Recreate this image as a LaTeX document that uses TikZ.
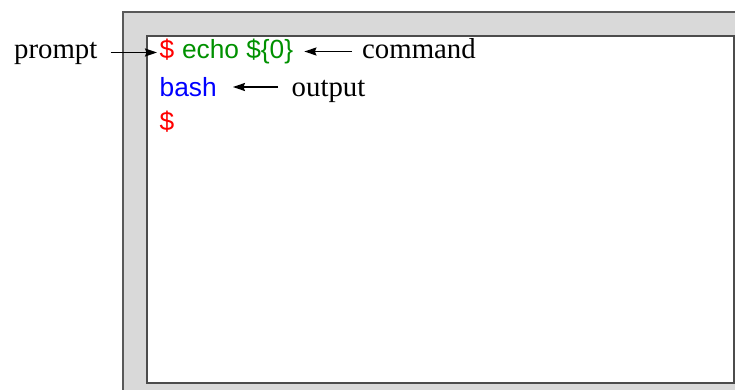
\documentclass[tikz,border=0pt]{standalone}
\usepackage{fontspec}
\setmainfont{Liberation Serif}
\newfontfamily\termfont{Liberation Sans}
\usetikzlibrary{arrows.meta}
\definecolor{cmdgreen}{RGB}{0,145,0}

\begin{document}
\begin{tikzpicture}[x=1pt,y=-1pt,
  label/.style={inner sep=0pt,anchor=base west,font=\fontsize{28.8}{34}\selectfont},
  term/.style={inner sep=0pt,anchor=base west,font=\termfont\fontsize{26.3}{31}\selectfont},
  ptr/.style={-{Stealth[length=12pt,width=8pt,inset=1.5pt]},line width=1.6pt}]
 \useasboundingbox (0,0) rectangle (735,390);
 \clip (0,0) rectangle (735,390);
 % window frame
 \draw[fill=black!15,draw=black!65,line width=1.6pt] (123,12) rectangle (790,430);
 \draw[fill=white,draw=black!70,line width=1.6pt] (147,36) rectangle (734,383);
 % terminal lines
 \node[term,text=red] (ps1) at (159.5,59) {\$};
 \node[term,text=cmdgreen] (cmd) at ([xshift=7.3pt]ps1.base east) {echo \$\{0\}};
 \node[term,text=blue] (bash) at (159.5,97) {bash};
 \node[term,text=red] (ps2) at (159.5,131) {\$};
 % labels
 \node[label] (prompt) at (14,59) {prompt};
 \node[label] (command) at (362,59) {command};
 \node[label] (output) at (291.5,97) {output};
 \draw[ptr,shorten <=13pt,shorten >=2.5pt] ([yshift=6.5pt]prompt.base east) -- ([yshift=6.5pt]ps1.base west);
 \draw[ptr,shorten <=10pt,shorten >=11pt] ([yshift=7.5pt]command.base west) -- ([yshift=7.5pt]cmd.base east);
 \draw[ptr,shorten <=13.5pt,shorten >=16pt] ([yshift=10pt]output.base west) -- ([yshift=10pt]bash.base east);
\end{tikzpicture}
\end{document}
